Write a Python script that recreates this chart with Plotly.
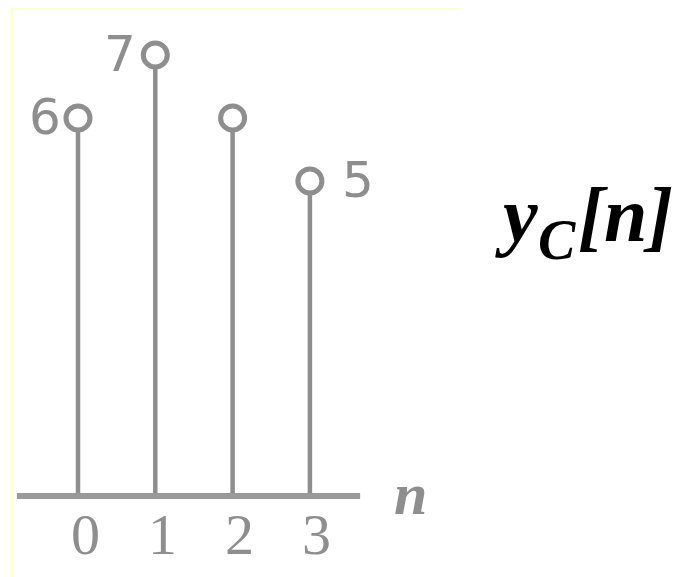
import plotly.graph_objects as go

# Data
n_vals = [0, 1, 2, 3]
y_vals = [6, 7, 6, 5]
tick_labels = ["0", "1", "2", "3"]
value_labels = ["6", "7", "", "5"]
value_label_xshift = [-33, -35, 0, 48]
axis_label = "n"
title_parts = ["y", "C", "[n]"]

GRAY = "#8e8e8e"
W, H = 683, 577
OX, OY = 8, 8  # page offset compensation

fig = go.Figure()

# stems
sx, sy = [], []
for n, v in zip(n_vals, y_vals):
    sx += [n, n, None]
    sy += [0, v, None]
fig.add_trace(go.Scatter(x=sx, y=sy, mode="lines",
                         line=dict(color=GRAY, width=4.5), hoverinfo="skip"))
# circles
fig.add_trace(go.Scatter(x=n_vals, y=y_vals, mode="markers",
                         marker=dict(symbol="circle", size=24, color="white",
                                     line=dict(color=GRAY, width=5))))

# horizontal axis line
fig.add_shape(type="line", xref="x", yref="y", x0=-0.79, x1=3.65, y0=0, y1=0,
              line=dict(color="#999999", width=6))

# value labels
for n, v, lab, dx in zip(n_vals, y_vals, value_labels, value_label_xshift):
    if lab:
        fig.add_annotation(x=n, y=v, text=lab, showarrow=False, xshift=dx, yshift=1,
                           font=dict(family="DejaVu Sans", size=50, color=GRAY))

# tick labels
for n, lab in zip(n_vals, tick_labels):
    fig.add_annotation(x=n, y=0, text=lab, showarrow=False, xshift=7, yshift=-38,
                       font=dict(family="Liberation Serif", size=58, color=GRAY))

# axis label n
fig.add_annotation(x=4.3, y=0, text="<i><b>" + axis_label + "</b></i>", showarrow=False,
                   yshift=2, font=dict(family="Liberation Serif", size=60, color=GRAY))


def px(xp):
    return (xp - OX) / W


def py(yp):
    return 1 - (yp - OY) / H


# title y_C[n] built from three pieces
title_pos = [(494, 214, 78), (537, 240, 56), (577, 214, 78)]
for part, (xp, yp, fs) in zip(title_parts, title_pos):
    fig.add_annotation(xref="paper", yref="paper", x=px(xp), y=py(yp),
                       xanchor="left", yanchor="middle", showarrow=False,
                       borderpad=0, text="<b><i>" + part + "</i></b>",
                       font=dict(family="Liberation Serif", size=fs, color="black"))

# faint yellow frame (left and top)
fig.add_shape(type="line", xref="paper", yref="paper", x0=px(12), x1=px(12), y0=-0.05, y1=py(8),
              line=dict(color="#ffffc8", width=3))
fig.add_shape(type="line", xref="paper", yref="paper", x0=px(12), x1=px(462), y0=py(8), y1=py(8),
              line=dict(color="#ffffc8", width=3))

x0n = (OX - 78) / 77.3
x1n = (OX + W - 78) / 77.3
fig.update_layout(
    width=W, height=H, margin=dict(l=0, r=0, t=0, b=0),
    paper_bgcolor="white", plot_bgcolor="white", showlegend=False,
    xaxis=dict(range=[x0n, x1n], visible=False, fixedrange=True),
    yaxis=dict(range=[(496 - OY - H) / 63, (496 - OY) / 63], visible=False, fixedrange=True),
)

fig.write_html("out.html")
